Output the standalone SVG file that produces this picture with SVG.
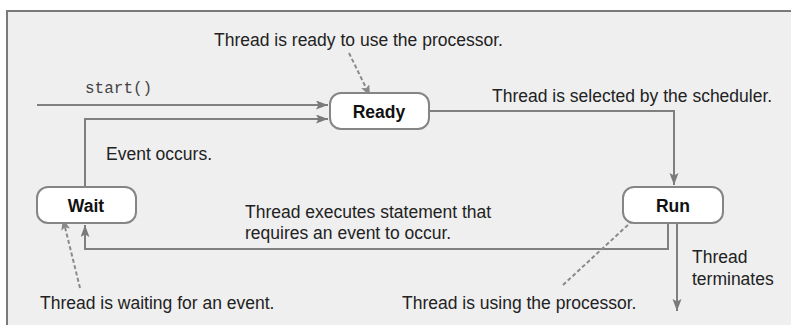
<svg xmlns="http://www.w3.org/2000/svg" width="791" height="325" viewBox="0 0 791 325">
<style>
.t{font-family:"Liberation Sans",Arial,sans-serif;font-size:17.5px;fill:#222}
.b{font-family:"Liberation Sans",Arial,sans-serif;font-size:17.5px;font-weight:bold;fill:#111;text-anchor:middle}
.m{font-family:"Liberation Mono","Courier New",monospace;font-size:16px;fill:#444}
.node{fill:#fff;stroke:#858585;stroke-width:2}
.c{fill:none;stroke:#7f7f7f;stroke-width:2}
.d{fill:none;stroke:#8a8a8a;stroke-width:2;stroke-dasharray:4 2.5}
</style>
<defs>
<marker id="ah" markerUnits="userSpaceOnUse" markerWidth="14" markerHeight="12" refX="12" refY="4.5" orient="auto">
<path d="M0,0 L12,4.5 L0,9 L2.5,4.5 z" fill="#7a7a7a"/>
</marker>
<marker id="ahd" markerUnits="userSpaceOnUse" markerWidth="14" markerHeight="12" refX="11" refY="4.5" orient="auto">
<path d="M0,0 L11,4.5 L0,9 L2.5,4.5 z" fill="#888"/>
</marker>
</defs>
<rect x="0" y="0" width="791" height="325" fill="#fff"/>
<rect x="7" y="11" width="800" height="330" fill="#efefef" stroke="#7a7a7a" stroke-width="2"/>
<g id="connectors">
<path class="c" d="M37,105 H328" marker-end="url(#ah)"/>
<path class="c" d="M85,187 V119 H328" marker-end="url(#ah)"/>
<path class="c" d="M429,111 H674 V185" marker-end="url(#ah)"/>
<path class="c" d="M668,223 V249 H85 V225" marker-end="url(#ah)"/>
<path class="c" d="M677,223 V311" marker-end="url(#ah)"/>
<path class="d" d="M349,53 L370,96" marker-end="url(#ahd)"/>
<path class="d" d="M80,288 L63,219" marker-end="url(#ahd)"/>
<path class="d" d="M563,285 L643,211" marker-end="url(#ahd)"/>
</g>
<g id="ready">
<rect class="node" x="330" y="93" width="99" height="36" rx="11"/>
<text class="b" x="379" y="118">Ready</text>
</g>
<g id="run">
<rect class="node" x="623" y="187" width="100" height="36" rx="11"/>
<text class="b" x="673" y="212">Run</text>
</g>
<g id="wait">
<rect class="node" x="37" y="187" width="99" height="36" rx="11"/>
<text class="b" x="86" y="212">Wait</text>
</g>
<g id="labels">
<text class="t" x="214" y="46">Thread is ready to use the processor.</text>
<text class="m" x="85" y="93">start()</text>
<text class="t" x="492" y="102">Thread is selected by the scheduler.</text>
<text class="t" x="106" y="160">Event occurs.</text>
<text class="t" x="245" y="218">Thread executes statement that</text>
<text class="t" x="245" y="239">requires an event to occur.</text>
<text class="t" x="692" y="263">Thread</text>
<text class="t" x="692" y="285">terminates</text>
<text class="t" x="40" y="309">Thread is waiting for an event.</text>
<text class="t" x="402" y="309">Thread is using the processor.</text>
</g>
</svg>
